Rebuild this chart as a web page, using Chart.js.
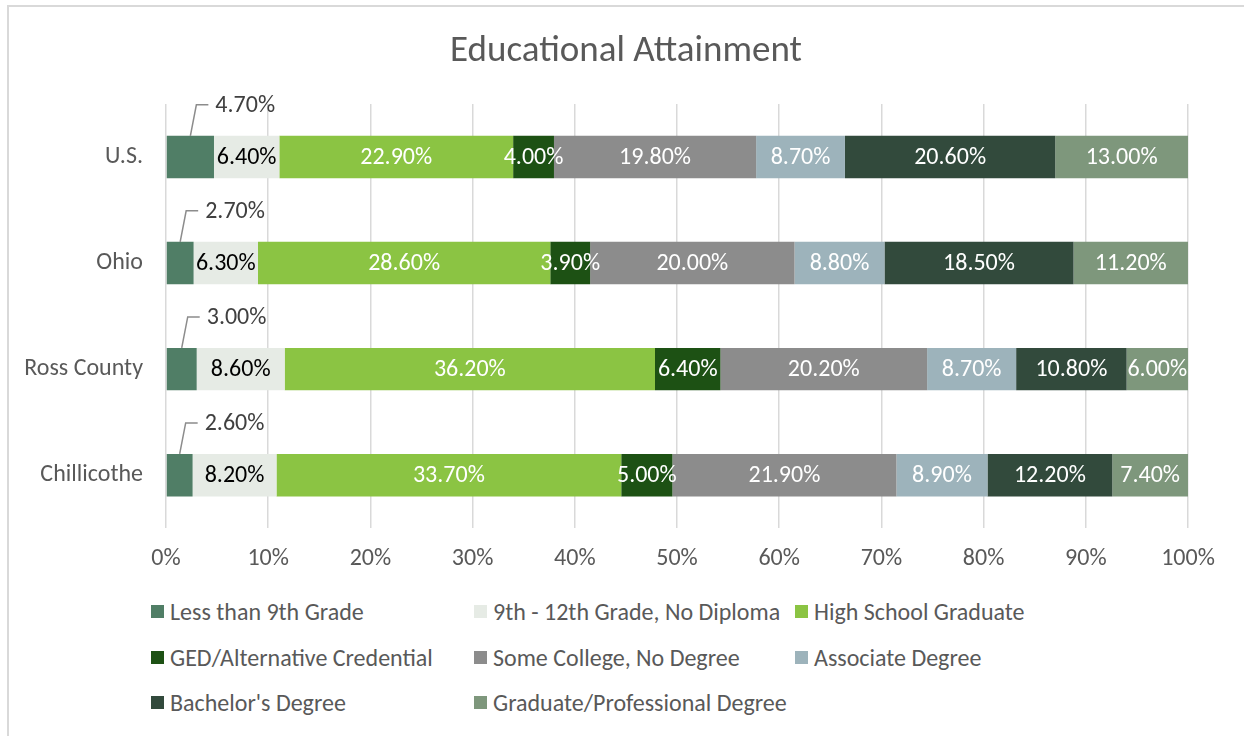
<!DOCTYPE html>
<html>
<head>
<meta charset="utf-8">
<script src="https://cdn.jsdelivr.net/npm/chart.js@4.4.1/dist/chart.umd.min.js"></script>
<style>
  body { margin: 0; background: #fff; font-family: Carlito, Lato, sans-serif; }
  #frame { position: absolute; left: 7px; top: 5px; width: 1250px; height: 740px; border: 2px solid #D9D9D9; border-right: none; border-bottom: none; }
  #wrap { position: absolute; left: 0; top: 0; width: 1244px; height: 589px; }
  #legend { position: absolute; left: 0; top: 596px; width: 1244px; }
  .item { position: absolute; height: 30px; display: flex; align-items: center; font-size: 24px; color: #595959; white-space: nowrap; }
  .item span.box { display: inline-block; width: 13px; height: 13px; margin-right: 6px; }
</style>
</head>
<body>
<div id="frame"></div>
<div id="wrap"><canvas id="chart"></canvas></div>
<div id="legend"></div>
<script>
const chartTitle = 'Educational Attainment';
const categories = ['U.S.', 'Ohio', 'Ross County', 'Chillicothe'];
const seriesNames = [
  'Less than 9th Grade',
  '9th - 12th Grade, No Diploma',
  'High School Graduate',
  'GED/Alternative Credential',
  'Some College, No Degree',
  'Associate Degree',
  "Bachelor's Degree",
  'Graduate/Professional Degree'
];
const lessThan9th   = [4.7, 2.7, 3.0, 2.6];
const grade9to12    = [6.4, 6.3, 8.6, 8.2];
const highSchool    = [22.9, 28.6, 36.2, 33.7];
const ged           = [4.0, 3.9, 6.4, 5.0];
const someCollege   = [19.8, 20.0, 20.2, 21.9];
const associate     = [8.7, 8.8, 8.7, 8.9];
const bachelors     = [20.6, 18.5, 10.8, 12.2];
const graduate      = [13.0, 11.2, 6.0, 7.4];
const tickLabels = ['0%', '10%', '20%', '30%', '40%', '50%', '60%', '70%', '80%', '90%', '100%'];

const colors = ['#507E66', '#E6EBE5', '#8BC443', '#1D5114', '#8C8C8C', '#9DB3BB', '#324A3C', '#7E977C'];
const labelColors = ['#404040', '#000000', '#ffffff', '#ffffff', '#ffffff', '#ffffff', '#ffffff', '#ffffff'];
const FONT = 'Carlito, Lato, sans-serif';

const series = [lessThan9th, grade9to12, highSchool, ged, someCollege, associate, bachelors, graduate];
// 100% stacked: scale each row to its total, like Excel does
const totals = categories.map((c, i) => series.reduce((s, arr) => s + arr[i], 0));

const datasets = series.map((arr, k) => ({
  label: seriesNames[k],
  data: arr.map((v, i) => v / totals[i] * 100),
  raw: arr,
  backgroundColor: colors[k],
  borderWidth: 0,
  barPercentage: 0.4,
  categoryPercentage: 1.0,
}));

// title drawn centred on the whole chart box (Chart.js would centre it inside the padding)
const titlePlugin = {
  id: 'titlePlugin',
  beforeDraw(chart) {
    const ctx = chart.ctx;
    ctx.save();
    ctx.font = '37px ' + FONT;
    ctx.fillStyle = '#595959';
    ctx.textAlign = 'center';
    ctx.textBaseline = 'middle';
    ctx.fillText(chartTitle, 626, 52);
    ctx.restore();
  }
};

const valueLabels = {
  id: 'valueLabels',
  afterDatasetsDraw(chart) {
    const ctx = chart.ctx;
    ctx.save();
    ctx.font = '24px ' + FONT;
    ctx.textBaseline = 'middle';
    chart.data.datasets.forEach((ds, k) => {
      chart.getDatasetMeta(k).data.forEach((bar, i) => {
        const txt = ds.raw[i].toFixed(2) + '%';
        const cx = (bar.x + bar.base) / 2;
        if (k === 0) {
          const top = bar.y - bar.height / 2;
          ctx.strokeStyle = '#8C8C8C';
          ctx.lineWidth = 1.5;
          ctx.beginPath();
          ctx.moveTo(cx, top);
          ctx.lineTo(cx + 6, top - 31);
          ctx.lineTo(cx + 18, top - 31);
          ctx.stroke();
          ctx.fillStyle = labelColors[k];
          ctx.textAlign = 'left';
          ctx.fillText(txt, cx + 25, top - 30);
        } else {
          ctx.fillStyle = labelColors[k];
          ctx.textAlign = 'center';
          ctx.fillText(txt, cx, bar.y + 1);
        }
      });
    });
    ctx.restore();
  }
};

new Chart(document.getElementById('chart'), {
  type: 'bar',
  data: { labels: categories, datasets: datasets },
  options: {
    indexAxis: 'y',
    responsive: true,
    maintainAspectRatio: false,
    animation: false,
    layout: { padding: { left: 0, right: 56, top: 104, bottom: 0 } },
    scales: {
      x: {
        stacked: true,
        min: 0,
        max: 100,
        border: { display: false },
        grid: { color: '#D9D9D9', lineWidth: 1.5, drawTicks: false },
        ticks: {
          stepSize: 10,
          padding: 16,
          color: '#595959',
          font: { family: FONT, size: 24 },
          callback: (v, i) => tickLabels[i],
        },
      },
      y: {
        stacked: true,
        border: { display: false },
        grid: { display: false, drawTicks: false },
        ticks: { padding: 23, color: '#595959', font: { family: FONT, size: 24 } },
        afterFit: (scale) => { scale.width = 166; },
      },
    },
    plugins: {
      legend: { display: false },
      tooltip: { enabled: false },
      title: { display: false },
    },
  },
  plugins: [titlePlugin, valueLabels],
});

// legend laid out in three left-aligned columns, like the original
const colX = [151, 474, 795];
const rowY = [0, 46, 91];
const legend = document.getElementById('legend');
seriesNames.forEach((name, k) => {
  const el = document.createElement('div');
  el.className = 'item';
  el.style.left = colX[k % 3] + 'px';
  el.style.top = rowY[Math.floor(k / 3)] + 'px';
  el.innerHTML = '<span class="box" style="background:' + colors[k] + '"></span>';
  el.appendChild(document.createTextNode(name));
  legend.appendChild(el);
});
</script>
</body>
</html>
